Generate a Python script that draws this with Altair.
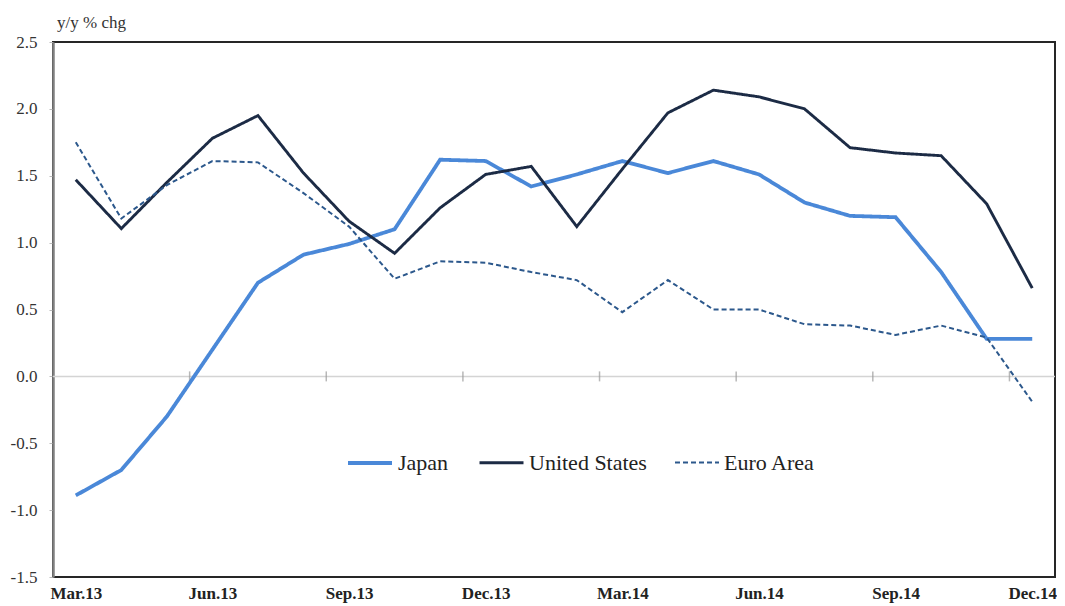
import altair as alt
import pandas as pd

months = ["Mar.13", "Apr.13", "May.13", "Jun.13", "Jul.13", "Aug.13", "Sep.13", "Oct.13",
          "Nov.13", "Dec.13", "Jan.14", "Feb.14", "Mar.14", "Apr.14", "May.14", "Jun.14",
          "Jul.14", "Aug.14", "Sep.14", "Oct.14", "Nov.14", "Dec.14"]
japan = [-0.89, -0.70, -0.30, 0.20, 0.70, 0.91, 0.99, 1.10, 1.62, 1.61, 1.42, 1.51,
         1.61, 1.52, 1.61, 1.51, 1.30, 1.20, 1.19, 0.78, 0.28, 0.28]
united_states = [1.47, 1.105, 1.45, 1.78, 1.95, 1.52, 1.16, 0.92, 1.26, 1.51, 1.57, 1.12,
                 1.55, 1.97, 2.14, 2.09, 2.00, 1.71, 1.67, 1.65, 1.29, 0.66]
euro_area = [1.75, 1.18, 1.43, 1.61, 1.60, 1.37, 1.12, 0.73, 0.86, 0.85, 0.78, 0.72,
             0.48, 0.72, 0.50, 0.50, 0.39, 0.38, 0.31, 0.38, 0.29, -0.19]
series_names = ["Japan", "United States", "Euro Area"]
tick_labels = ["Mar.13", "Jun.13", "Sep.13", "Dec.13", "Mar.14", "Jun.14", "Sep.14", "Dec.14"]

rows = []
for name, vals in zip(series_names, [japan, united_states, euro_area]):
    for i, (m, v) in enumerate(zip(months, vals)):
        rows.append({"series": name, "idx": i, "month": m, "value": v})
df = pd.DataFrame(rows)

SERIF = "Liberation Serif, Times New Roman, DejaVu Serif, serif"
x_scale = alt.Scale(domain=[-0.5, len(months) - 0.5], nice=False, zero=False)
y_scale = alt.Scale(domain=[-1.5, 2.5], nice=False, zero=False)

label_expr = "[" + ",".join("'" + t + "'" for t in tick_labels) + "][round(datum.value/3)]"
y_label_expr = "datum.value < 0 ? '-' + format(-datum.value, '.1f') : format(datum.value, '.1f')"

legend_cfg = dict(title=None, orient="none", legendX=293, legendY=397,
                  direction="horizontal", symbolType="stroke",
                  symbolSize=1936, labelFont=SERIF, labelFontSize=22,
                  labelColor="#222222", columnPadding=24, labelOffset=4)

lines = alt.Chart(df).mark_line(strokeJoin="miter").encode(
    x=alt.X("idx:Q", scale=x_scale,
            axis=alt.Axis(values=list(range(0, len(months), 3)), labelExpr=label_expr,
                          title=None, grid=False, ticks=False, domain=False,
                          labelFont=SERIF, labelFontSize=17, labelFontWeight="bold",
                          labelColor="#222222", labelPadding=8)),
    y=alt.Y("value:Q", scale=y_scale,
            axis=alt.Axis(values=[-1.5, -1.0, -0.5, 0.0, 0.5, 1.0, 1.5, 2.0, 2.5],
                          labelExpr=y_label_expr, title=None, grid=False,
                          tickSize=4, tickColor="#bbbbbb", domain=True,
                          domainColor="#808080", domainWidth=2.5,
                          labelFont=SERIF, labelFontSize=17, labelColor="#333333",
                          labelPadding=12)),
    color=alt.Color("series:N",
                    scale=alt.Scale(domain=series_names, range=["#4A88D8", "#1C2B45", "#2C588C"]),
                    legend=alt.Legend(**legend_cfg)),
    strokeDash=alt.StrokeDash("series:N",
                              scale=alt.Scale(domain=series_names, range=[[1, 0], [1, 0], [5, 3]]),
                              legend=alt.Legend(**legend_cfg)),
    strokeWidth=alt.StrokeWidth("series:N",
                                scale=alt.Scale(domain=series_names, range=[3.8, 2.0, 2.0]),
                                legend=alt.Legend(**legend_cfg)),
    order=alt.Order("idx:Q"),
)

zero_df = pd.DataFrame({"value": [0.0]})
zero_line = alt.Chart(zero_df).mark_rule(color="#d4d4d4", strokeWidth=1.5).encode(
    y=alt.Y("value:Q", scale=y_scale)
)

tick_pos = [2.5, 5.5, 8.5, 11.5, 14.5, 17.5, 20.5]
ticks_df = pd.DataFrame({"idx": tick_pos, "value": [0.0] * len(tick_pos)})
zero_ticks = alt.Chart(ticks_df).mark_tick(orient="vertical", size=10, thickness=1.5,
                                           color="#9a9a9a").encode(
    x=alt.X("idx:Q", scale=x_scale),
    y=alt.Y("value:Q", scale=y_scale),
)

chart = alt.layer(zero_line, zero_ticks, lines).properties(
    width=1002, height=535,
    autosize=alt.AutoSizeParams(type="none"),
    padding={"left": 45, "top": 34, "right": 2, "bottom": 28},
    title=alt.Title("y/y % chg", anchor="start", frame="group", font=SERIF, fontSize=17,
                    fontWeight="normal", color="#333333", offset=1, dx=4),
).configure(background="white").configure_view(stroke="#262626", strokeWidth=2)

chart.save("out.html", embed_options={"renderer": "svg", "actions": False})
